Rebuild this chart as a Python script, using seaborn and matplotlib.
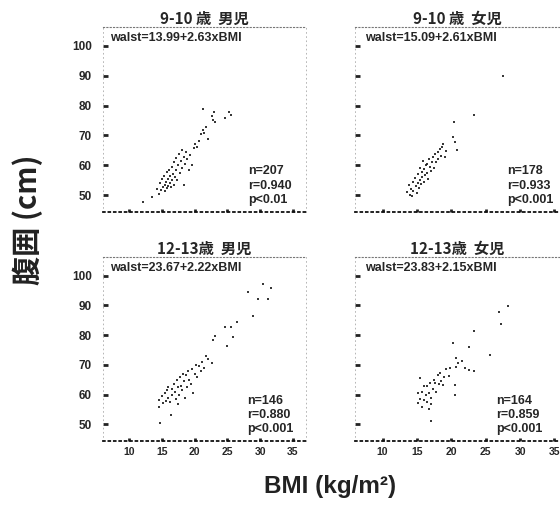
import matplotlib
matplotlib.use("Agg")
import matplotlib.pyplot as plt
import seaborn as sns
import pandas as pd

# ---------------- data ----------------
titles = ["9-10 歳  男児", "9-10 歳  女児", "12-13歳  男児", "12-13歳  女児"]
equations = ["walst=13.99+2.63xBMI", "walst=15.09+2.61xBMI",
             "walst=23.67+2.22xBMI", "walst=23.83+2.15xBMI"]
stats_n = ["n=207", "n=178", "n=146", "n=164"]
stats_r = ["r=0.940", "r=0.933", "r=0.880", "r=0.859"]
stats_p = ["p<0.01", "p<0.001", "p<0.001", "p<0.001"]

xticks = [10, 15, 20, 25, 30, 35]
yticks = [50, 60, 70, 80, 90, 100]

bmi_b910 = [12.1, 13.5, 14.2, 14.5, 14.7, 14.9, 15.0, 15.2, 15.3, 15.4,
            15.5, 15.6, 15.7, 15.8, 15.9, 16.0, 16.1, 16.2, 16.3, 16.4,
            16.5, 16.6, 16.7, 16.8, 16.9, 17.0, 17.1, 17.2, 17.3, 17.5,
            17.6, 17.7, 17.9, 18.0, 18.1, 18.3, 18.4, 18.5, 18.7, 18.9,
            19.1, 19.3, 19.6, 19.9, 20.1, 20.4, 20.6, 20.9, 21.2, 21.4,
            21.7, 22.1, 22.6, 22.8, 22.9, 23.1, 24.7, 25.3, 25.5, 21.3]
waist_b910 = [47.8, 49.4, 52.0, 50.5, 54.0, 51.8, 55.5, 52.8, 56.5, 53.5,
              51.5, 54.5, 57.8, 52.5, 55.5, 53.2, 58.5, 54.2, 56.5, 52.8,
              59.5, 55.0, 57.2, 53.6, 61.0, 56.0, 58.5, 62.5, 55.2, 60.0,
              63.8, 57.5, 61.5, 65.0, 59.0, 62.8, 53.5, 60.5, 64.5, 62.0,
              58.5, 63.5, 60.0, 65.8, 67.0, 66.0, 68.2, 70.5, 72.0, 71.0,
              73.0, 68.8, 76.5, 75.2, 77.8, 74.5, 76.0, 78.0, 77.0, 79.0]

bmi_g910 = [13.6, 13.8, 14.0, 14.2, 14.4, 14.5, 14.7, 14.8, 15.0, 15.1,
            15.2, 15.3, 15.4, 15.5, 15.6, 15.7, 15.8, 15.9, 16.0, 16.1,
            16.2, 16.4, 16.5, 16.6, 16.7, 16.9, 17.0, 17.2, 17.4, 17.5,
            17.7, 17.8, 18.0, 18.1, 18.3, 18.5, 18.7, 18.8, 19.1, 19.3,
            20.2, 20.4, 20.5, 20.8, 23.3, 27.5, 14.3, 16.3]
waist_g910 = [51.0, 53.5, 50.2, 52.2, 54.5, 51.5, 55.7, 53.0, 50.8, 54.0,
              57.0, 52.5, 59.0, 55.2, 53.8, 57.8, 56.0, 61.5, 54.6, 58.8,
              56.8, 57.4, 60.5, 55.5, 62.0, 59.5, 58.0, 61.0, 62.9, 59.2,
              63.8, 61.0, 64.5, 62.0, 65.5, 63.0, 66.0, 67.3, 62.9, 64.8,
              69.4, 74.4, 67.9, 65.3, 76.8, 89.9, 49.8, 60.0]

bmi_b1213 = [14.5, 14.6, 14.7, 15.0, 15.2, 15.4, 15.6, 15.8, 16.0, 16.2,
             16.4, 16.5, 16.6, 16.8, 17.0, 17.1, 17.3, 17.4, 17.6, 17.8,
             17.9, 18.1, 18.2, 18.4, 18.5, 18.7, 18.9, 19.0, 19.2, 19.4,
             19.6, 19.8, 20.0, 20.2, 20.4, 20.6, 20.9, 21.1, 21.4, 21.7,
             22.0, 22.6, 22.8, 23.1, 24.6, 25.0, 25.6, 25.8, 26.4, 28.2,
             28.9, 29.7, 30.5, 31.2, 31.7, 17.5, 16.0]
waist_b1213 = [58.3, 56.0, 50.6, 59.5, 57.3, 60.5, 58.0, 61.5, 59.0, 57.5,
               53.3, 62.0, 59.8, 63.5, 61.0, 58.5, 64.8, 62.5, 60.0, 66.0,
               63.0, 61.5, 67.0, 64.5, 59.0, 66.5, 62.5, 68.0, 65.0, 63.5,
               68.5, 60.6, 67.0, 70.0, 66.0, 69.5, 68.0, 71.1, 69.0, 73.0,
               72.0, 70.8, 78.3, 79.7, 82.8, 76.3, 82.8, 79.4, 84.4, 94.4,
               86.4, 92.2, 97.2, 92.2, 95.9, 57.0, 62.5]

bmi_g1213 = [15.2, 15.2, 15.4, 15.5, 15.7, 15.8, 16.0, 16.1, 16.3, 16.4,
             16.5, 16.7, 16.9, 17.0, 17.1, 17.1, 17.3, 17.5, 17.6, 17.8,
             18.0, 18.2, 18.4, 18.5, 18.8, 19.0, 19.3, 19.6, 19.8, 20.2,
             20.5, 20.6, 20.7, 20.7, 21.0, 21.6, 22.0, 22.5, 22.6, 23.3,
             23.3, 25.6, 27.0, 27.2, 28.3, 16.8]
waist_g1213 = [57.2, 60.6, 65.6, 58.5, 61.0, 56.0, 58.3, 63.0, 59.8, 62.8,
               57.5, 60.5, 64.0, 58.8, 56.7, 51.1, 62.0, 65.0, 63.9, 61.0,
               66.5, 63.5, 67.2, 64.5, 63.3, 66.0, 68.5, 66.1, 69.0, 77.4,
               63.3, 60.0, 72.2, 69.4, 70.5, 71.4, 69.0, 75.9, 68.3, 67.8,
               81.3, 73.3, 87.8, 83.6, 89.7, 55.0]

panels_bmi = [bmi_b910, bmi_g910, bmi_b1213, bmi_g1213]
panels_waist = [waist_b910, waist_g910, waist_b1213, waist_g1213]

# ---------------- style ----------------
sns.set_style("white")
plt.rcParams["font.family"] = ["Liberation Sans", "Noto Sans CJK JP", "DejaVu Sans"]
CJK = ["Noto Sans CJK JP", "Liberation Sans", "DejaVu Sans"]

W, H = 560, 508
fig = plt.figure(figsize=(W / 100, H / 100), dpi=100)
fig.patch.set_facecolor("white")

# pixel boxes: left, right, top, bottom
boxes = [(103, 306, 27, 212), (355, 560, 27, 212),
         (103, 306, 257, 441), (355, 560, 257, 441)]
xlims = [(6, 37), (6, 35.8), (6, 37), (6, 35.8)]
stat_x = [0.715, 0.74, 0.708, 0.69]
eq_x = [0.035, 0.05, 0.035, 0.05]

for i in range(4):
    l, r, t, b = boxes[i]
    ax = fig.add_axes([l / W, 1 - b / H, (r - l) / W, (b - t) / H])
    df = pd.DataFrame({"BMI": panels_bmi[i], "waist": panels_waist[i]})
    sns.scatterplot(data=df, x="BMI", y="waist", ax=ax, s=4, marker="s",
                    color="#151515", linewidth=0, alpha=0.85)
    ax.set_xlim(*xlims[i])
    ax.set_ylim(44.4, 106.3)
    ax.set_xticks(xticks)
    ax.set_yticks(yticks)
    ax.set_xlabel("")
    ax.set_ylabel("")
    ax.tick_params(axis="y", left=True, direction="in", length=3.5, width=2,
                   color="#222", pad=8, labelsize=8.5)
    ax.tick_params(axis="x", bottom=True, direction="in", length=2.5, width=2,
                   color="#222", pad=4, labelsize=7.5)
    for lab in ax.get_xticklabels() + ax.get_yticklabels():
        lab.set_fontweight("bold")
    if i < 2:
        ax.set_xticklabels([])
    if i % 2 == 1:
        ax.set_yticklabels([])
    ax.spines["bottom"].set_linestyle((0, (1, 2)))
    ax.spines["bottom"].set_linewidth(1.3)
    ax.spines["bottom"].set_color("#111")
    ax.spines["top"].set_linestyle((0, (1, 2)))
    ax.spines["top"].set_linewidth(0.8)
    ax.spines["top"].set_color("#777")
    for s in ("left", "right"):
        ax.spines[s].set_linestyle((0, (1, 4)))
        ax.spines[s].set_linewidth(0.6)
        ax.spines[s].set_color("#aaa")
    ax.set_title(titles[i], fontsize=11, fontweight="bold", family=CJK, pad=2)
    ax.text(eq_x[i], 0.94, equations[i], transform=ax.transAxes,
            fontsize=9, fontweight="bold", va="center", ha="left")
    for k, txt in enumerate([stats_n[i], stats_r[i], stats_p[i]]):
        ax.text(stat_x[i], 0.22 - k * 0.077, txt, transform=ax.transAxes,
                fontsize=9, fontweight="bold", va="center", ha="left")

fig.text(330 / W, 1 - 486 / H, "BMI (kg/m²)", fontsize=17.5, fontweight="bold",
         ha="center", va="center", color="#222")
fig.text(28 / W, 1 - 220 / H, "腹囲 (cm)", fontsize=21, fontweight="bold",
         ha="center", va="center", rotation=90, family=CJK, color="#222")

fig.savefig("out.png", dpi=100, facecolor="white")
